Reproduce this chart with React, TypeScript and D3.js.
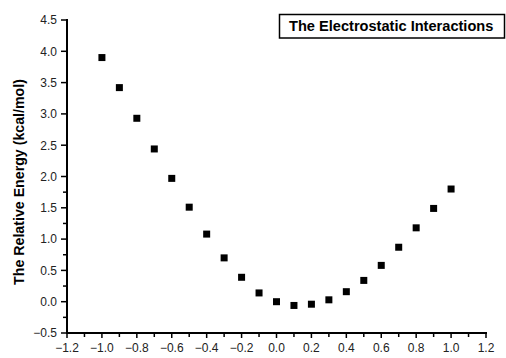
import React, { useEffect, useRef } from 'react';
import * as d3 from 'd3';

const xValues = [-1.0, -0.9, -0.8, -0.7, -0.6, -0.5, -0.4, -0.3, -0.2, -0.1, 0.0, 0.1, 0.2, 0.3, 0.4, 0.5, 0.6, 0.7, 0.8, 0.9, 1.0];
const energies = [3.9, 3.42, 2.93, 2.44, 1.97, 1.51, 1.08, 0.7, 0.39, 0.14, 0.0, -0.06, -0.04, 0.03, 0.16, 0.34, 0.58, 0.87, 1.18, 1.49, 1.8];
const xTicks = [-1.2, -1.0, -0.8, -0.6, -0.4, -0.2, 0.0, 0.2, 0.4, 0.6, 0.8, 1.0, 1.2];
const yTicks = [-0.5, 0.0, 0.5, 1.0, 1.5, 2.0, 2.5, 3.0, 3.5, 4.0, 4.5];
const legendText = 'The Electrostatic Interactions';
const yTitle = 'The Relative Energy (kcal/mol)';

export default function App() {
  const svgRef = useRef<SVGSVGElement | null>(null);

  useEffect(() => {
    if (!svgRef.current) return;
    const svg = d3.select(svgRef.current);
    svg.selectAll('*').remove();

    const left = 67, right = 486, top = 20, bottom = 333;
    const x = d3.scaleLinear().domain([-1.2, 1.2]).range([left, right]);
    const y = d3.scaleLinear().domain([-0.5, 4.5]).range([bottom, top]);
    const font = 'Arial, "Liberation Sans", sans-serif';

    // minor ticks
    const xMinor = d3.range(-11, 12, 2).map((v) => v / 10);
    const yMinor = d3.range(-1, 9, 2).map((v) => v / 4);
    svg.append('g').selectAll('line').data(xMinor).join('line')
      .attr('x1', (d) => x(d)).attr('x2', (d) => x(d))
      .attr('y1', bottom).attr('y2', bottom + 4)
      .attr('stroke', '#000').attr('stroke-width', 1.5);
    svg.append('g').selectAll('line').data(yMinor).join('line')
      .attr('x1', left - 4).attr('x2', left)
      .attr('y1', (d) => y(d)).attr('y2', (d) => y(d))
      .attr('stroke', '#000').attr('stroke-width', 1.5);

    // major ticks
    svg.append('g').selectAll('line').data(xTicks).join('line')
      .attr('x1', (d) => x(d)).attr('x2', (d) => x(d))
      .attr('y1', bottom).attr('y2', bottom + 5)
      .attr('stroke', '#000').attr('stroke-width', 1.5);
    svg.append('g').selectAll('line').data(yTicks).join('line')
      .attr('x1', left - 6).attr('x2', left)
      .attr('y1', (d) => y(d)).attr('y2', (d) => y(d))
      .attr('stroke', '#000').attr('stroke-width', 1.5);

    // axis lines
    svg.append('line').attr('x1', left).attr('x2', left).attr('y1', top - 1).attr('y2', bottom + 1)
      .attr('stroke', '#000').attr('stroke-width', 2);
    svg.append('line').attr('x1', left - 1).attr('x2', right + 1).attr('y1', bottom).attr('y2', bottom)
      .attr('stroke', '#000').attr('stroke-width', 2);

    // tick labels
    const fmt = d3.format('.1f');
    svg.append('g').selectAll('text').data(xTicks).join('text')
      .attr('x', (d) => x(d)).attr('y', 352)
      .attr('text-anchor', 'middle')
      .attr('font-family', font).attr('font-size', 12)
      .attr('fill', '#222')
      .text((d) => fmt(d));
    svg.append('g').selectAll('text').data(yTicks).join('text')
      .attr('x', 57).attr('y', (d) => y(d) + 4.3)
      .attr('text-anchor', 'end')
      .attr('font-family', font).attr('font-size', 12)
      .attr('fill', '#222')
      .text((d) => fmt(d));

    // y title
    svg.append('text')
      .attr('transform', 'translate(24,182) rotate(-90)')
      .attr('text-anchor', 'middle')
      .attr('font-family', font).attr('font-size', 14.2)
      .attr('font-weight', 'bold')
      .text(yTitle);

    // data squares
    const s = 7;
    svg.append('g').selectAll('rect').data(xValues).join('rect')
      .attr('x', (d) => x(d) - s / 2)
      .attr('y', (_, i) => y(energies[i]) - s / 2)
      .attr('width', s).attr('height', s)
      .attr('fill', '#000');

    // legend box
    svg.append('rect')
      .attr('x', 279.5).attr('y', 14.5).attr('width', 225).attr('height', 23.5)
      .attr('fill', '#fff').attr('stroke', '#000').attr('stroke-width', 1.5);
    svg.append('text')
      .attr('x', 289).attr('y', 31)
      .attr('font-family', font).attr('font-size', 14.6)
      .attr('font-weight', 'bold')
      .text(legendText);
  }, []);

  return (
    <svg ref={svgRef} width={506} height={358}
      style={{ position: 'absolute', left: 0, top: 0, background: '#fff' }} />
  );
}
